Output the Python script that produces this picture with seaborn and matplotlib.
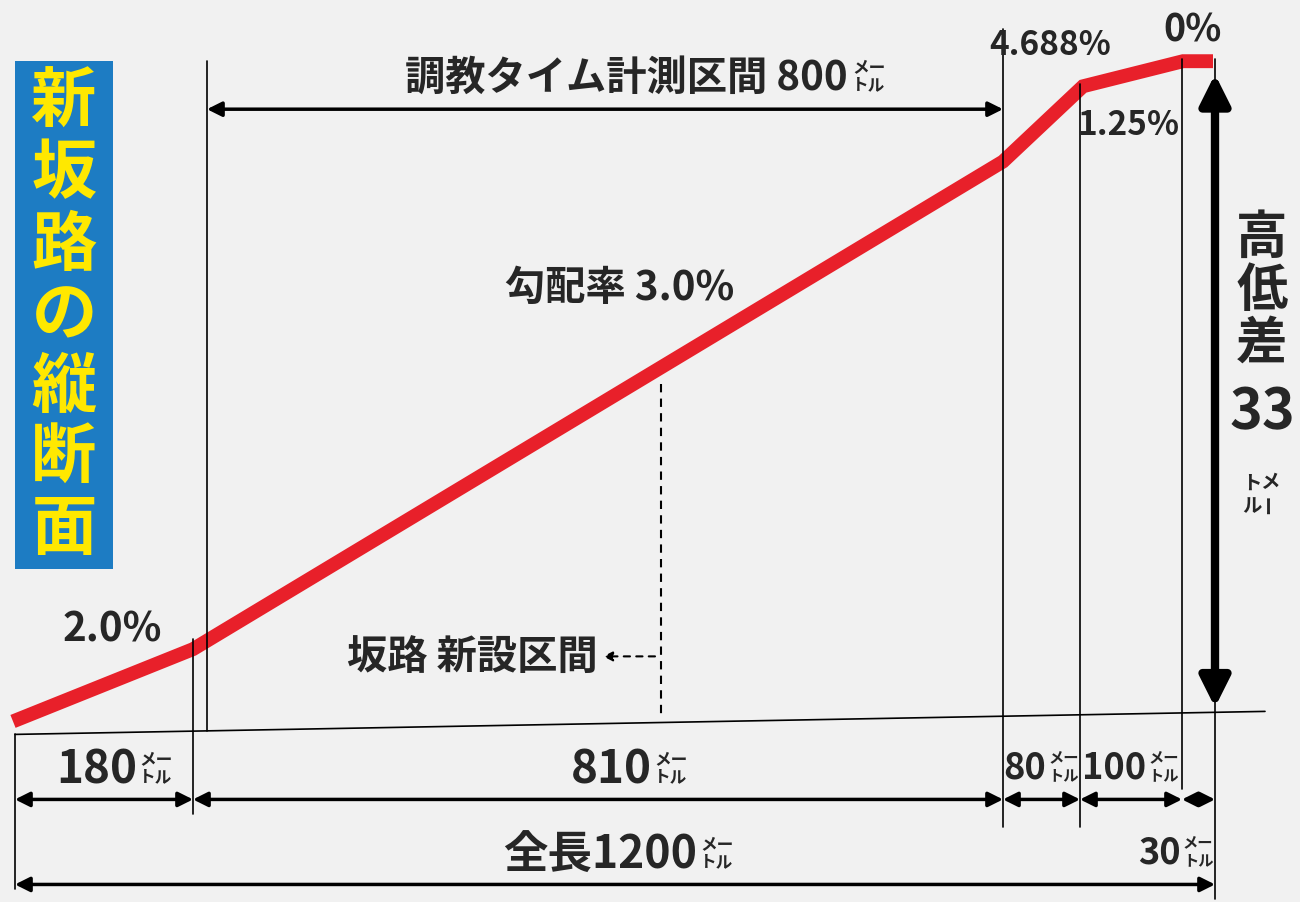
import numpy as np
import pandas as pd
import seaborn as sns
import matplotlib.pyplot as plt

# 区間の長さ(m)と勾配(%)
seg_lengths = [180, 810, 80, 100, 30]
seg_grades = [2.0, 3.0, 4.688, 1.25, 0.0]
len_labels = ["180", "810", "80", "100", "30"]
grade_labels = ["2.0%", "勾配率 3.0%", "4.688%", "1.25%", "0%"]

dist = np.concatenate([[0], np.cumsum(seg_lengths)])
elev = np.concatenate([[0], np.cumsum(np.array(seg_lengths) * np.array(seg_grades) / 100)])
profile = pd.DataFrame({"dist": dist, "elev": elev})

sns.set_theme(style="white")
plt.rcParams['font.family'] = ['Noto Sans CJK JP', 'DejaVu Sans']

fig = plt.figure(figsize=(13, 9.03), dpi=100)
fig.patch.set_facecolor("#f1f1f1")
ax = fig.add_axes([0, 0, 1, 1])
ax.set_facecolor("#f1f1f1")
ax.set_xlim(-13, 1287)
ax.set_ylim(-9.0, 36.0)
ax.axis("off")

S = 20.06  # px per metre elevation
def fx(px):
    return px - 13
def fy(py):
    return (722 - py) / S

# ground line
ax.plot([fx(15), fx(1265)], [fy(735), fy(712)], color="black", lw=1.2)

# profile
sns.lineplot(data=profile, x="dist", y="elev", ax=ax, color="#e8202a", lw=10,
             solid_joinstyle="miter", solid_capstyle="butt")

# vertical guide lines
for px, y0, y1 in [(207, 62, 732), (1003, 30, 828), (1080, 85, 828),
                   (1182, 60, 790), (1215, 60, 900), (193, 640, 815), (15, 735, 890)]:
    ax.plot([fx(px), fx(px)], [fy(y0), fy(y1)], color="black", lw=1.2)

def unit(px, py, size=12):
    ax.text(fx(px), fy(py - 9), "メー", fontsize=size, ha="left", va="center", fontweight="bold")
    ax.text(fx(px), fy(py + 9), "トル", fontsize=size, ha="left", va="center", fontweight="bold")

def dim(x0, x1, py, lw=2.5):
    ax.annotate("", xy=(fx(x1), fy(py)), xytext=(fx(x0), fy(py)),
                arrowprops=dict(arrowstyle="<|-|>", color="black", lw=lw,
                                mutation_scale=22, shrinkA=0, shrinkB=0))

# top timing section
dim(207, 1003, 110)
ax.text(fx(848), fy(78), "調教タイム計測区間 800", fontsize=29, fontweight="bold",
        ha="right", va="center")
unit(852, 76)

# bottom dimensions
edges = [15, 193, 1003, 1080, 1182, 1215]
for i in range(5):
    dim(edges[i], edges[i + 1], 800, lw=2.5)
lab_pos = [(137, 770, 33), (652, 770, 33), (1046, 768, 26), (1146, 768, 26), (1181, 853, 26)]
for lab, (px, py, fs) in zip(len_labels, lab_pos):
    ax.text(fx(px), fy(py), lab, fontsize=fs, fontweight="bold", ha="right", va="center")
    unit(px + 2, py - 2, size=11 if fs < 30 else 12)
dim(15, 1215, 885)
ax.text(fx(697), fy(855), "全長1200", fontsize=32, fontweight="bold", ha="right", va="center")
unit(700, 853)

# grades
ax.text(fx(112), fy(630), grade_labels[0], fontsize=29, fontweight="bold", ha="center", va="center")
ax.text(fx(620), fy(288), grade_labels[1], fontsize=29, fontweight="bold", ha="center", va="center")
ax.text(fx(1050), fy(45), grade_labels[2], fontsize=24, fontweight="bold", ha="center", va="center")
ax.text(fx(1128), fy(125), grade_labels[3], fontsize=24, fontweight="bold", ha="center", va="center")
ax.text(fx(1193), fy(30), grade_labels[4], fontsize=27, fontweight="bold", ha="center", va="center")

# new section marker
ax.plot([fx(661), fx(661)], [fy(385), fy(720)], color="black", lw=1.5, ls=(0, (4, 3)))
ax.annotate("", xy=(fx(603), fy(657)), xytext=(fx(655), fy(657)),
            arrowprops=dict(arrowstyle="-|>", color="black", lw=1.5, ls=(0, (3, 3)),
                            mutation_scale=14, shrinkA=0, shrinkB=0))
ax.text(fx(598), fy(657), "坂路 新設区間", fontsize=29, fontweight="bold", ha="right", va="center")

# height difference arrow
ax.annotate("", xy=(fx(1215), fy(75)), xytext=(fx(1215), fy(708)),
            arrowprops=dict(arrowstyle="<|-|>", color="black", lw=6,
                            mutation_scale=45, shrinkA=0, shrinkB=0))
ax.text(fx(1262), fy(290), "高\n低\n差", fontsize=37, fontweight="bold", ha="center",
        va="center", linespacing=1.0)
ax.text(fx(1262), fy(412), "33", fontsize=40, fontweight="bold", ha="center", va="center")
ax.text(fx(1270), fy(482), "メ", fontsize=14, fontweight="bold", ha="center", va="center")
ax.text(fx(1270), fy(504), "ー", fontsize=14, fontweight="bold", ha="center", va="center", rotation=90)
ax.text(fx(1252), fy(484), "ト", fontsize=14, fontweight="bold", ha="center", va="center")
ax.text(fx(1252), fy(506), "ル", fontsize=14, fontweight="bold", ha="center", va="center")

# title box
ax.add_patch(plt.Rectangle((fx(15), fy(570)), 98, (570 - 62) / S,
                           facecolor="#1d7cc3", edgecolor="none"))
ax.text(fx(64), fy(316), "\n".join("新坂路の縦断面"), fontsize=47, fontweight="bold",
        color="#ffe800", ha="center", va="center", linespacing=1.08)

fig.savefig("out.png", dpi=100, facecolor=fig.get_facecolor())
